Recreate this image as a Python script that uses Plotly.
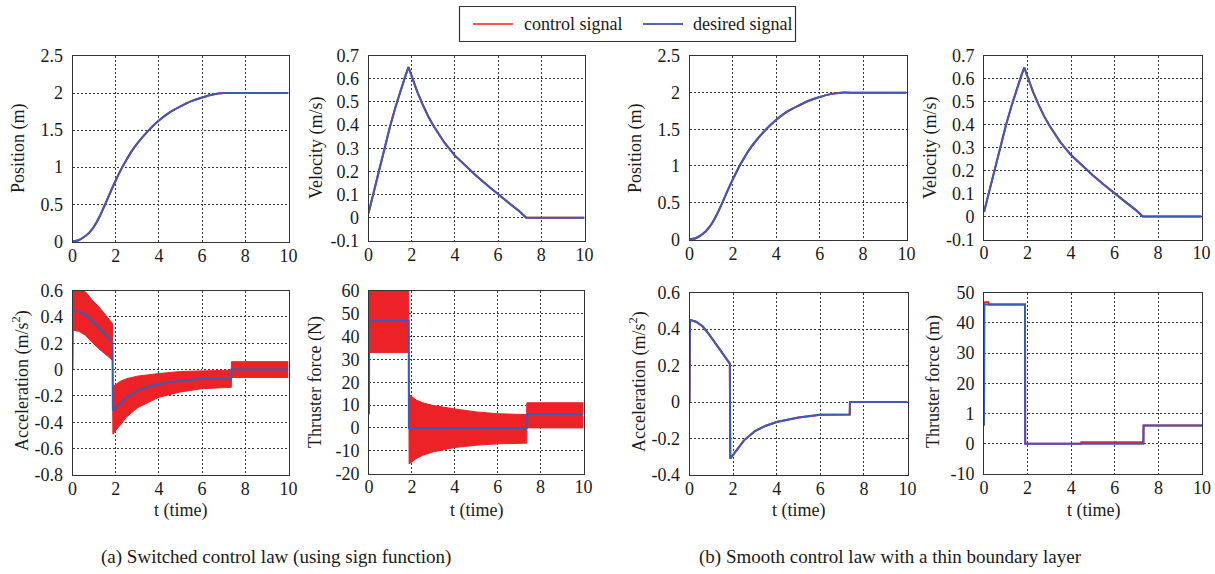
import plotly.graph_objects as go

W, H = 1215, 574

# ---------------- data ----------------
t_pos = [0, 0.25, 0.5, 0.75, 1, 1.25, 1.5, 1.75, 2, 2.25, 2.5, 2.75, 3, 3.5, 4, 4.5, 5, 5.5, 6, 6.5, 7, 7.5, 8, 9, 10]
position = [0, 0.01, 0.05, 0.11, 0.2, 0.33, 0.49, 0.66, 0.82, 0.97, 1.1, 1.22, 1.32, 1.49, 1.63, 1.74, 1.82, 1.89, 1.94, 1.98, 2.0, 2.0, 2.0, 2.0, 2.0]

t_vel = [0, 0.25, 0.5, 0.75, 1, 1.25, 1.5, 1.7, 1.85, 2.0, 2.25, 2.5, 2.75, 3, 3.5, 4, 4.5, 5, 5.5, 6, 6.5, 7, 7.3, 8, 10]
velocity = [0.02, 0.117, 0.212, 0.305, 0.395, 0.478, 0.555, 0.61, 0.65, 0.61, 0.545, 0.49, 0.44, 0.398, 0.326, 0.268, 0.222, 0.18, 0.14, 0.1, 0.064, 0.027, 0.0, 0.0, 0.0]

t_acc = [0, 0.02, 0.3, 0.6, 0.9, 1.2, 1.5, 1.85, 1.87, 2.0, 2.25, 2.5, 3, 3.5, 4, 5, 6, 7.35, 7.36, 10]
accel_desired = [0, 0.45, 0.44, 0.415, 0.37, 0.32, 0.27, 0.21, -0.31, -0.29, -0.245, -0.21, -0.16, -0.13, -0.11, -0.085, -0.07, -0.068, 0, 0]

# switched (sign function) control: chattering envelope
acc_band_t = [0, 0.3, 0.6, 0.9, 1.2, 1.5, 1.85, 1.87, 2.2, 2.5, 3, 4, 5, 6, 7.35, 7.36, 10]
acc_band_hi = [0.63, 0.62, 0.59, 0.53, 0.48, 0.42, 0.35, -0.13, -0.09, -0.07, -0.05, -0.03, -0.015, -0.01, -0.005, 0.06, 0.06]
acc_band_lo = [0.30, 0.29, 0.26, 0.21, 0.16, 0.12, 0.07, -0.49, -0.42, -0.36, -0.29, -0.21, -0.17, -0.145, -0.135, -0.06, -0.06]

thr_band_t = [0, 1.85, 1.87, 2.2, 2.5, 3, 4, 5, 6, 7.35, 7.36, 10]
thr_band_hi = [62, 62, 14.6, 12.2, 11, 9.8, 8.3, 7, 6.2, 5.8, 11, 11]
thr_band_lo = [33, 33, -15.8, -13.5, -12, -10.5, -8.6, -7.6, -7.0, -6.7, 0, 0]

t_thr_a = [0, 0.01, 1.85, 1.86, 7.35, 7.36, 10]
thrust_desired_a = [6, 47, 47, 0, 0, 6, 6]

t_thr_b = [0, 0.01, 1.88, 1.89, 7.31, 7.32, 10]
thrust_desired_b = [6, 46, 46, 0, 0, 6, 6]
t_thr_ctrl_b = [0, 0.01, 0.2, 0.22, 1.88, 1.89, 4.45, 4.46, 7.31, 7.32, 10]
thrust_control_b = [6, 46.8, 46.8, 46, 46, 0, 0, 0.5, 0.5, 6, 6]

x_ticks = [0, 2, 4, 6, 8, 10]
pos_ticks = [0, 0.5, 1, 1.5, 2, 2.5]
pos_labels = ["0", "0.5", "1", "1.5", "2", "2.5"]
vel_ticks = [-0.1, 0, 0.1, 0.2, 0.3, 0.4, 0.5, 0.6, 0.7]
vel_labels = ["-0.1", "0", "0.1", "0.2", "0.3", "0.4", "0.5", "0.6", "0.7"]
acc_a_ticks = [-0.8, -0.6, -0.4, -0.2, 0, 0.2, 0.4, 0.6]
acc_a_labels = ["-0.8", "-0.6", "-0.4", "-0.2", "0", "0.2", "0.4", "0.6"]
thr_a_ticks = [-20, -10, 0, 10, 20, 30, 40, 50, 60]
thr_a_labels = ["-20", "-10", "0", "10", "20", "30", "40", "50", "60"]
acc_b_ticks = [-0.4, -0.2, 0, 0.2, 0.4, 0.6]
acc_b_labels = ["-0.4", "-0.2", "0", "0.2", "0.4", "0.6"]
thr_b_ticks = [-10, 0, 10, 20, 30, 40, 50]
thr_b_labels = ["-10", "0", "1", "20", "30", "40", "50"]

# ---------------- styling ----------------
FONT = "Liberation Serif, Times New Roman, serif"
TXT = "#1a1a1a"
RED = "#EC2226"
BLUE = "#3A5BB8"
GRID = "#3a3a3a"

fig = go.Figure()

# panel boxes in pixels: (left, right, top, bottom)
boxes = [
    (72.5, 288.5, 56, 242),     # 1 a position
    (368.5, 584.5, 55.5, 241),  # 2 a velocity
    (72.5, 288.5, 290.5, 475),  # 3 a acceleration
    (369, 583.5, 291, 473.5),   # 4 a thrust
    (689.5, 906.5, 56, 240),    # 5 b position
    (984, 1201.5, 56, 239.5),   # 6 b velocity
    (689.5, 907.5, 292.5, 475), # 7 b acceleration
    (984, 1202, 292.5, 474),    # 8 b thrust
]
yranges = [[-0.01, 2.5], [-0.1, 0.7], [-0.8, 0.6], [-20, 60],
           [-0.01, 2.5], [-0.1, 0.7], [-0.4, 0.6], [-10, 50]]
yticks = [(pos_ticks, pos_labels), (vel_ticks, vel_labels), (acc_a_ticks, acc_a_labels), (thr_a_ticks, thr_a_labels),
          (pos_ticks, pos_labels), (vel_ticks, vel_labels), (acc_b_ticks, acc_b_labels), (thr_b_ticks, thr_b_labels)]

layout_axes = {}
for i, ((l, r, t, b), yr, (tv, tt)) in enumerate(zip(boxes, yranges, yticks), start=1):
    sfx = "" if i == 1 else str(i)
    common = dict(showgrid=True, gridcolor=GRID, griddash="2px,2px", gridwidth=1,
                  showline=True, mirror=True, linecolor="#333", linewidth=1,
                  ticks="", zeroline=False, automargin=False,
                  tickfont=dict(family=FONT, size=18, color=TXT))
    layout_axes["xaxis" + sfx] = dict(domain=[l / W, r / W], range=[0, 10], anchor="y" + sfx,
                                      tickvals=x_ticks, ticktext=[str(v) for v in x_ticks],
                                      ticklabelstandoff=-3, **common)
    layout_axes["yaxis" + sfx] = dict(domain=[1 - b / H, 1 - t / H], range=yr, anchor="x" + sfx,
                                      tickvals=tv, ticktext=tt, ticklabelstandoff=5, **common)
fig.update_layout(**layout_axes)


def ax(i):
    return ("x" if i == 1 else "x" + str(i)), ("y" if i == 1 else "y" + str(i))


def line(i, x, y, color, width=2):
    xa, ya = ax(i)
    fig.add_trace(go.Scatter(x=x, y=y, mode="lines", line=dict(color=color, width=width, shape="spline", smoothing=0.3),
                             xaxis=xa, yaxis=ya, showlegend=False, hoverinfo="skip"))


def step(i, x, y, color, width=2):
    xa, ya = ax(i)
    fig.add_trace(go.Scatter(x=x, y=y, mode="lines", line=dict(color=color, width=width),
                             xaxis=xa, yaxis=ya, showlegend=False, hoverinfo="skip"))


def band(i, x, lo, hi):
    xa, ya = ax(i)
    fig.add_trace(go.Scatter(x=x, y=lo, mode="lines", line=dict(color=RED, width=1),
                             xaxis=xa, yaxis=ya, showlegend=False, hoverinfo="skip"))
    fig.add_trace(go.Scatter(x=x, y=hi, mode="lines", line=dict(color=RED, width=1),
                             fill="tonexty", fillcolor=RED,
                             xaxis=xa, yaxis=ya, showlegend=False, hoverinfo="skip"))


# (a) switched control law
line(1, t_pos, position, RED); line(1, t_pos, position, BLUE)
step(2, t_vel, velocity, RED); step(2, t_vel, velocity, BLUE)
band(3, acc_band_t, acc_band_lo, acc_band_hi); step(3, t_acc, accel_desired, BLUE)
band(4, thr_band_t, thr_band_lo, thr_band_hi); step(4, t_thr_a, thrust_desired_a, BLUE)
# (b) smooth control law
line(5, t_pos, position, RED); line(5, t_pos, position, BLUE)
step(6, t_vel, velocity, RED); step(6, t_vel, velocity, BLUE)
step(7, t_acc, accel_desired, RED); step(7, t_acc, accel_desired, BLUE)
step(8, t_thr_ctrl_b, thrust_control_b, RED); step(8, t_thr_b, thrust_desired_b, BLUE)

annotations = []


def text(x, y, s, size=18, angle=0, xanchor="center"):
    annotations.append(dict(x=x / W, y=1 - y / H, xref="paper", yref="paper", text=s, showarrow=False,
                            textangle=angle, xanchor=xanchor, yanchor="middle",
                            font=dict(family=FONT, size=size, color=TXT)))


# y-axis titles
text(18, 148, "Position (m)", angle=-90)
text(316, 148, "Velocity (m/s)", angle=-90)
text(21, 381, "Acceleration (m/s<sup>2</sup>)", angle=-90)
text(315, 382, "Thruster force (N)", angle=-90)
text(635, 148, "Position (m)", angle=-90)
text(930, 148, "Velocity (m/s)", angle=-90)
text(638, 382, "Acceleration (m/s<sup>2</sup>)", angle=-90)
text(933, 382, "Thruster force (m)", angle=-90)
# x-axis titles
for (l, r, t, b) in (boxes[2], boxes[3], boxes[6], boxes[7]):
    text((l + r) / 2, 510, "t (time)")
# captions
text(276, 557, "(a) Switched control law (using sign function)", size=19)
text(890, 557, "(b) Smooth control law with a thin boundary layer", size=19)
# legend (manual)
text(522, 24, "control signal", xanchor="left")
text(691, 24, "desired signal", xanchor="left")

shapes = [
    dict(type="rect", xref="paper", yref="paper", x0=459.5 / W, x1=795.5 / W, y0=1 - 41.5 / H, y1=1 - 6.5 / H,
         line=dict(color="#333", width=1.2), fillcolor="white"),
    dict(type="line", xref="paper", yref="paper", x0=473 / W, x1=513 / W, y0=1 - 24 / H, y1=1 - 24 / H,
         line=dict(color="#FF1A1A", width=1.5)),
    dict(type="line", xref="paper", yref="paper", x0=643 / W, x1=683 / W, y0=1 - 24 / H, y1=1 - 24 / H,
         line=dict(color="#22309A", width=1.5)),
]

fig.update_layout(width=W, height=H, margin=dict(l=0, r=0, t=0, b=0),
                  paper_bgcolor="white", plot_bgcolor="white",
                  annotations=annotations, shapes=shapes, showlegend=False)

fig.write_html("out.html", config={"displayModeBar": False},
               post_script="document.body.style.margin='0';document.body.style.padding='0';")
